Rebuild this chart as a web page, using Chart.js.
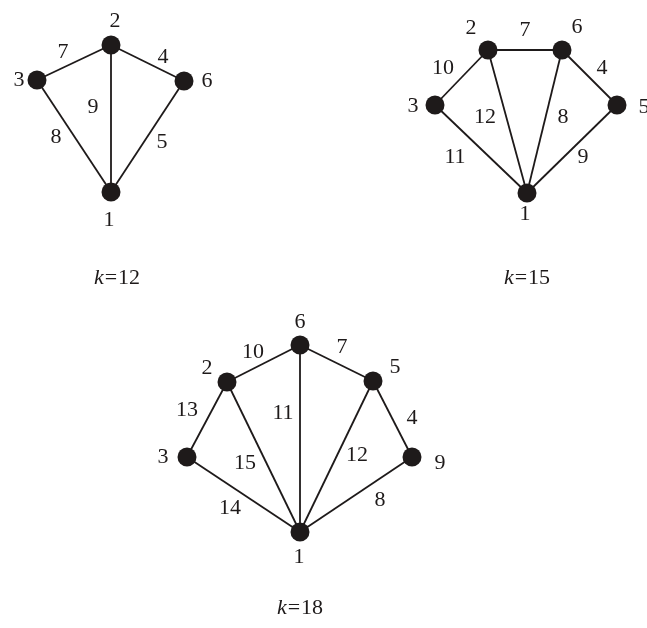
<!DOCTYPE html>
<html>
<head>
<meta charset="utf-8">
<script src="https://cdn.jsdelivr.net/npm/chart.js@4.4.1/dist/chart.umd.min.js"></script>
<style>
html,body{margin:0;padding:0;background:#fff;}
#wrap{width:647px;height:628px;position:relative;}
</style>
</head>
<body>
<div id="wrap"><canvas id="c"></canvas></div>
<script>
// Graph k=12
const g1Nodes = [
  {id:1, x:111, y:192, lx:109, ly:220},
  {id:2, x:111, y:45,  lx:115, ly:21},
  {id:3, x:37,  y:80,  lx:19,  ly:80},
  {id:6, x:184, y:81,  lx:207, ly:81}
];
const g1Edges = [[3,2,7],[2,6,4],[2,1,9],[3,1,8],[6,1,5]];
const g1EdgeLabels = [[63,52],[163,57],[93,107],[56,137],[162,142]];
const g1Title = {k:"12", x:117, y:278};

// Graph k=15
const g2Nodes = [
  {id:1, x:527, y:193, lx:525, ly:214},
  {id:2, x:488, y:50,  lx:471, ly:28},
  {id:6, x:562, y:50,  lx:577, ly:27},
  {id:3, x:435, y:105, lx:413, ly:106},
  {id:5, x:617, y:105, lx:644, ly:107}
];
const g2Edges = [[2,6,7],[6,5,4],[2,3,10],[2,1,12],[6,1,8],[3,1,11],[5,1,9]];
const g2EdgeLabels = [[525,30],[602,68],[443,68],[485,117],[563,117],[455,157],[583,157]];
const g2Title = {k:"15", x:527, y:278};

// Graph k=18
const g3Nodes = [
  {id:1, x:300, y:532, lx:299, ly:557},
  {id:6, x:300, y:345, lx:300, ly:322},
  {id:2, x:227, y:382, lx:207, ly:368},
  {id:5, x:373, y:381, lx:395, ly:367},
  {id:3, x:187, y:457, lx:163, ly:457},
  {id:9, x:412, y:457, lx:440, ly:463}
];
const g3Edges = [[2,6,10],[6,5,7],[2,3,13],[6,1,11],[5,9,4],[2,1,15],[5,1,12],[3,1,14],[9,1,8]];
const g3EdgeLabels = [[253,352],[342,347],[187,410],[283,413],[412,418],[245,463],[357,455],[230,508],[380,500]];
const g3Title = {k:"18", x:300, y:608};

const graphs = [
  {nodes:g1Nodes, edges:g1Edges, elab:g1EdgeLabels, title:g1Title},
  {nodes:g2Nodes, edges:g2Edges, elab:g2EdgeLabels, title:g2Title},
  {nodes:g3Nodes, edges:g3Edges, elab:g3EdgeLabels, title:g3Title}
];

const INK = '#1e1a1a';
const datasets = [];
graphs.forEach(g => {
  const byId = {};
  g.nodes.forEach(n => byId[n.id] = n);
  g.edges.forEach(e => {
    const a = byId[e[0]], b = byId[e[1]];
    datasets.push({
      type:'scatter', showLine:true,
      data:[{x:a.x,y:a.y},{x:b.x,y:b.y}],
      borderColor:INK, borderWidth:1.8, pointRadius:0, pointHoverRadius:0, order:2
    });
  });
});
graphs.forEach(g => {
  datasets.push({
    type:'scatter', showLine:false,
    data:g.nodes.map(n => ({x:n.x,y:n.y})),
    pointRadius:9.5, pointBackgroundColor:INK, pointBorderColor:INK, pointBorderWidth:0,
    pointStyle:'circle', order:1
  });
});

const labelPlugin = {
  id:'labels',
  afterDatasetsDraw(chart){
    const ctx = chart.ctx, xs = chart.scales.x, ys = chart.scales.y;
    ctx.save();
    ctx.fillStyle = INK;
    ctx.textAlign = 'center';
    ctx.textBaseline = 'middle';
    const font = '22px "Liberation Serif", "Times New Roman", serif';
    const italic = 'italic 22px "Liberation Serif", "Times New Roman", serif';
    graphs.forEach(g => {
      ctx.font = font;
      g.nodes.forEach(n => ctx.fillText(String(n.id), xs.getPixelForValue(n.lx), ys.getPixelForValue(n.ly)));
      g.edges.forEach((e,i) => ctx.fillText(String(e[2]), xs.getPixelForValue(g.elab[i][0]), ys.getPixelForValue(g.elab[i][1])));
      const eq = '=', num = g.title.k;
      ctx.font = italic; const w1 = ctx.measureText('k').width;
      ctx.font = font; const w2 = ctx.measureText(eq).width, w3 = ctx.measureText(num).width;
      const gap = 1;
      const total = w1 + gap + w2 + gap + w3;
      const cx = xs.getPixelForValue(g.title.x), cy = ys.getPixelForValue(g.title.y);
      let left = cx - total/2;
      ctx.textAlign = 'left';
      ctx.font = italic; ctx.fillText('k', left, cy); left += w1 + gap;
      ctx.font = font; ctx.fillText(eq, left, cy); left += w2 + gap;
      ctx.fillText(num, left, cy);
      ctx.textAlign = 'center';
    });
    ctx.restore();
  }
};

new Chart(document.getElementById('c'), {
  type:'scatter',
  data:{datasets},
  options:{
    responsive:true, maintainAspectRatio:false, animation:false,
    layout:{padding:0, autoPadding:false},
    plugins:{legend:{display:false}, tooltip:{enabled:false}},
    events:[],
    scales:{
      x:{type:'linear', min:0, max:647, display:false},
      y:{type:'linear', min:0, max:628, reverse:true, display:false}
    }
  },
  plugins:[labelPlugin]
});
</script>
</body>
</html>
